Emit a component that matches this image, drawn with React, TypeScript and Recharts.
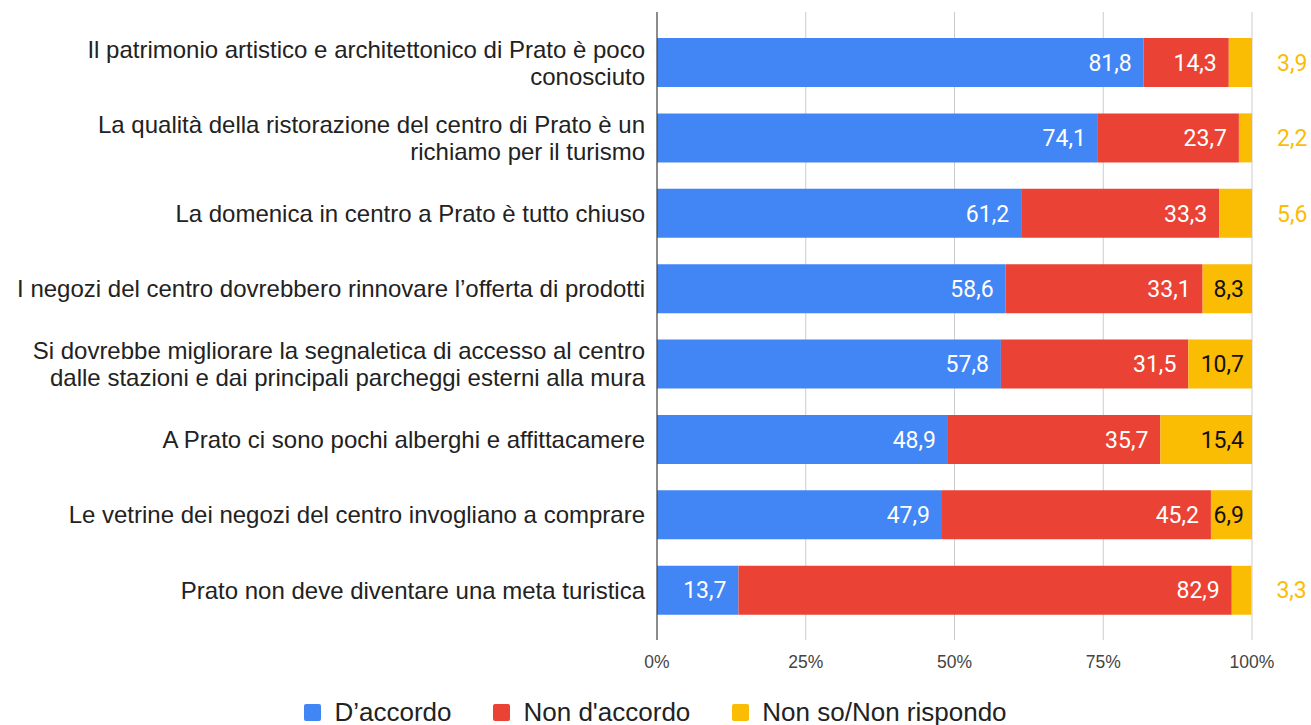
import React from 'react';
import {
  BarChart,
  Bar,
  XAxis,
  YAxis,
  CartesianGrid,
  Legend,
  LabelList,
  ReferenceLine
} from 'recharts';

const categories = [
  'Il patrimonio artistico e architettonico di Prato è poco\nconosciuto',
  'La qualità della ristorazione del centro di Prato è un\nrichiamo per il turismo',
  'La domenica in centro a Prato è tutto chiuso',
  'I negozi del centro dovrebbero rinnovare l’offerta di prodotti',
  'Si dovrebbe migliorare la segnaletica di accesso al centro\ndalle stazioni e dai principali parcheggi esterni alla mura',
  'A Prato ci sono pochi alberghi e affittacamere',
  'Le vetrine dei negozi del centro invogliano a comprare',
  'Prato non deve diventare una meta turistica'
];

const accordo = [81.8, 74.1, 61.2, 58.6, 57.8, 48.9, 47.9, 13.7];
const nonAccordo = [14.3, 23.7, 33.3, 33.1, 31.5, 35.7, 45.2, 82.9];
const nonSo = [3.9, 2.2, 5.6, 8.3, 10.7, 15.4, 6.9, 3.3];

const xTicks = [0, 25, 50, 75, 100];

const series = [
  { key: 'accordo', name: 'D’accordo', color: '#4285F4' },
  { key: 'nonAccordo', name: "Non d'accordo", color: '#EA4335' },
  { key: 'nonSo', name: 'Non so/Non rispondo', color: '#FBBC04' }
];

const data = categories.map((name, i) => ({
  name,
  accordo: accordo[i],
  nonAccordo: nonAccordo[i],
  nonSo: nonSo[i]
}));

const SANS = 'Arial, "Liberation Sans", sans-serif';
const ROBOTO = 'Roboto, "Noto Sans", sans-serif';

const fmt = (v: number) => v.toFixed(1).replace('.', ',');

const CategoryTick = (props: any) => {
  const { x, y, payload } = props;
  const lines = String(payload.value).split('\n');
  const lh = 27;
  const start = -((lines.length - 1) * lh) / 2;
  return (
    <text
      x={x - 4}
      y={y}
      textAnchor="end"
      fill="#222"
      style={{ fontFamily: SANS, fontSize: 24 }}
    >
      {lines.map((line, i) => (
        <tspan key={i} x={x - 4} y={y + start + i * lh} dy="0.35em">
          {line}
        </tspan>
      ))}
    </text>
  );
};

const insideLabel = (color: string) => (props: any) => {
  const { x, y, width, height, value } = props;
  return (
    <text
      x={x + width - 12}
      y={y + height / 2}
      dy="0.36em"
      textAnchor="end"
      fill={color}
      style={{ fontFamily: ROBOTO, fontSize: 23 }}
    >
      {fmt(value)}
    </text>
  );
};

// small yellow segments get their label outside the bar
const nonSoLabel = (props: any) => {
  const { x, y, width, height, value } = props;
  const inside = value > 6;
  return (
    <text
      x={inside ? x + width - 8 : x + width + 25}
      y={y + height / 2}
      dy="0.36em"
      textAnchor={inside ? 'end' : 'start'}
      fill={inside ? '#111' : '#FBBC04'}
      style={{ fontFamily: ROBOTO, fontSize: 23 }}
    >
      {fmt(value)}
    </text>
  );
};

const LegendContent = () => (
  <div
    style={{
      display: 'flex',
      justifyContent: 'center',
      alignItems: 'center',
      gap: 42,
      height: 30,
      fontFamily: SANS,
      fontSize: 26,
      color: '#222'
    }}
  >
    {series.map((s) => (
      <div key={s.key} style={{ display: 'flex', alignItems: 'center' }}>
        <span
          style={{
            display: 'inline-block',
            width: 17,
            height: 17,
            borderRadius: 2,
            background: s.color,
            marginRight: 13
          }}
        />
        <span>{s.name}</span>
      </div>
    ))}
  </div>
);

export default function App() {
  return (
    <div style={{ position: 'absolute', left: 0, top: 0, background: '#fff' }}>
      <BarChart
        width={1311}
        height={725}
        data={data}
        layout="vertical"
        margin={{ top: 12, right: 59, left: 0, bottom: 20 }}
      >
        <CartesianGrid horizontal={false} stroke="#cccccc" />
        <XAxis
          type="number"
          domain={[0, 100]}
          allowDataOverflow
          ticks={xTicks}
          tickFormatter={(v) => `${v}%`}
          axisLine={false}
          tickLine={false}
          tickMargin={10}
          height={35}
          tick={{ fill: '#444', fontSize: 17.5, fontFamily: SANS }}
        />
        <YAxis
          type="category"
          dataKey="name"
          width={657}
          axisLine={false}
          tickLine={false}
          padding={{ top: 13, bottom: 12 }}
          tick={<CategoryTick />}
          interval={0}
        />
        <ReferenceLine x={0} stroke="#333" strokeWidth={1} />
        <Bar dataKey="accordo" name={series[0].name} stackId="a" fill={series[0].color} barSize={49} isAnimationActive={false}>
          <LabelList dataKey="accordo" content={insideLabel('#fff')} />
        </Bar>
        <Bar dataKey="nonAccordo" name={series[1].name} stackId="a" fill={series[1].color} barSize={49} isAnimationActive={false}>
          <LabelList dataKey="nonAccordo" content={insideLabel('#fff')} />
        </Bar>
        <Bar dataKey="nonSo" name={series[2].name} stackId="a" fill={series[2].color} barSize={49} isAnimationActive={false}>
          <LabelList dataKey="nonSo" content={nonSoLabel} />
        </Bar>
        <Legend
          content={<LegendContent />}
          wrapperStyle={{ top: 697, left: 0, width: 1311, height: 30 }}
        />
      </BarChart>
    </div>
  );
}
